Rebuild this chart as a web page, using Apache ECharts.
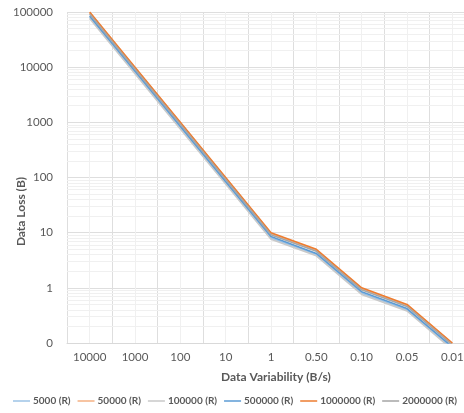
<!DOCTYPE html>
<html>
<head>
<meta charset="utf-8">
<script src="https://cdn.jsdelivr.net/npm/echarts@6/dist/echarts.min.js"></script>
<style>
  html, body { margin: 0; padding: 0; background: #fff; }
  #chart { width: 464px; height: 413px; }
</style>
</head>
<body>
<div id="chart"></div>
<script>
// x categories (data variability, B/s)
var categories = ['10000', '1000', '100', '10', '1', '0.50', '0.10', '0.05', '0.01']

// data loss (B) per series
var s5000 = [80000, 8000, 800, 80, 8.0, 4.0, 0.80, 0.40, 0.080]
var s50000 = [97000, 9700, 970, 97, 9.7, 4.8, 0.97, 0.48, 0.097]
var s100000 = [76000, 7600, 760, 76, 7.6, 3.8, 0.76, 0.38, 0.076]
var s500000 = [85000, 8500, 850, 85, 8.5, 4.2, 0.85, 0.42, 0.085]
var s1000000 = [100000, 10000, 1000, 100, 10, 5.0, 1.0, 0.50, 0.10]
var s2000000 = [92000, 9200, 920, 92, 9.2, 4.6, 0.92, 0.46, 0.092]

var seriesNames = ['5000 (R)', '50000 (R)', '100000 (R)', '500000 (R)', '1000000 (R)', '2000000 (R)']
var seriesData = [s5000, s50000, s100000, s500000, s1000000, s2000000]
var colors = ['#9DC3E6', '#F4B183', '#C9C9C9', '#5B9BD5', '#ED7D31', '#A5A5A5']

// faint minor grid lines (2..9 within each decade) and category centre lines
var minorLines = []
for (var p = -1; p < 5; p++) {
  for (var m = 2; m < 10; m++) {
    minorLines.push({ yAxis: m * Math.pow(10, p) })
  }
}
categories.forEach(function (c) {
  minorLines.push({ xAxis: c })
})

var textColor = '#595959'
var font = 'Lato'

var chart = echarts.init(document.getElementById('chart'))

var series = seriesNames.map(function (name, i) {
  return {
    name: name,
    type: 'line',
    data: seriesData[i],
    symbol: 'none',
    z: 3,
    lineStyle: { width: 1.6, color: colors[i] },
    itemStyle: { color: colors[i] },
  }
})
series.unshift({
  name: 'minor',
  type: 'line',
  data: [],
  silent: true,
  z: 1,
  markLine: {
    silent: true,
    symbol: 'none',
    z: 1,
    label: { show: false },
    lineStyle: { color: '#F0F0F0', width: 1, type: 'solid' },
    emphasis: { disabled: true },
    animation: false,
    data: minorLines,
  },
})

chart.setOption({
  animation: false,
  color: colors,
  grid: {
    left: 67,
    top: 12,
    width: 408,
    height: 331,
    containLabel: false,
    outerBoundsMode: 'none',
  },
  legend: {
    data: seriesNames,
    bottom: 2,
    left: 8,
    icon: 'rect',
    itemWidth: 17,
    itemHeight: 1.5,
    itemGap: 7,
    textStyle: {
      color: textColor,
      fontFamily: font,
      fontSize: 10,
      fontWeight: 'bold',
      padding: [0, 0, 0, -2],
    },
  },
  xAxis: {
    type: 'category',
    data: categories,
    boundaryGap: true,
    name: 'Data Variability (B/s)',
    nameLocation: 'middle',
    nameGap: 28,
    nameMoveOverlap: false,
    nameTextStyle: {
      color: textColor,
      fontFamily: font,
      fontSize: 12,
      fontWeight: 'bold',
      padding: [0, 0, 0, 10],
    },
    axisLine: { show: true, lineStyle: { color: '#D9D9D9' } },
    axisTick: { show: false },
    axisLabel: { color: textColor, fontFamily: font, fontSize: 11.5, margin: 8, interval: 0 },
    splitLine: { show: true, interval: 0, lineStyle: { color: '#DEDEDE' } },
  },
  yAxis: {
    type: 'log',
    logBase: 10,
    min: 0.1,
    max: 100000,
    name: 'Data Loss (B)',
    nameLocation: 'middle',
    nameGap: 40,
    nameMoveOverlap: false,
    nameTextStyle: {
      color: textColor,
      fontFamily: font,
      fontSize: 12,
      fontWeight: 'bold',
      padding: [0, 68, 0, 0],
    },
    axisLine: { show: false },
    axisTick: { show: false },
    axisLabel: {
      color: textColor,
      fontFamily: font,
      fontSize: 11.5,
      margin: 14,
      formatter: function (v) {
        return v < 1 ? '0' : String(Math.round(v))
      },
    },
    splitLine: { show: true, lineStyle: { color: '#DEDEDE' } },
  },
  series: series,
})
</script>
</body>
</html>
